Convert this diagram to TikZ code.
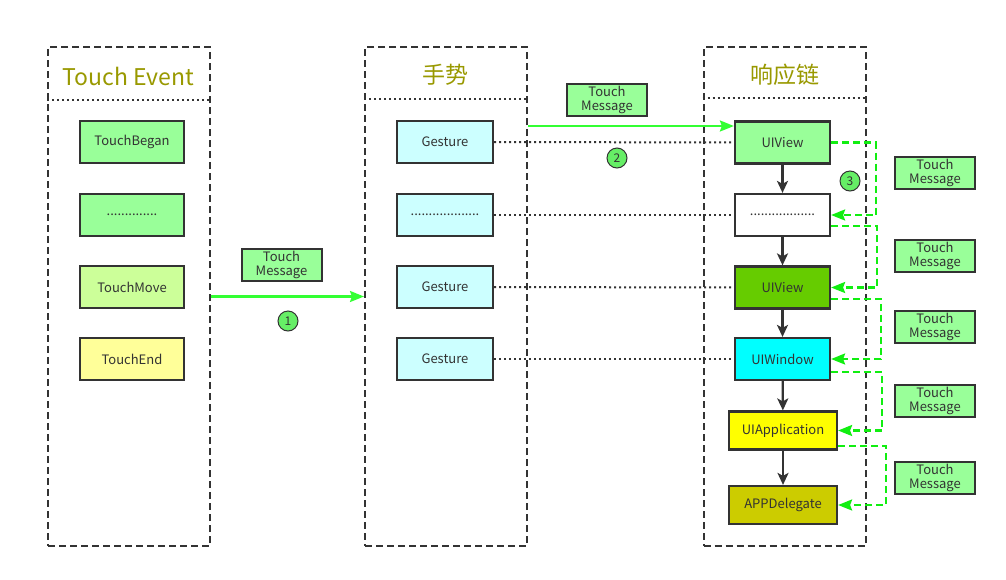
\documentclass[tikz,border=0pt]{standalone}
\usepackage{fontspec}
\setmainfont{Noto Sans CJK SC}
\usetikzlibrary{arrows.meta,positioning,calc}
\definecolor{titleol}{HTML}{999900}
\definecolor{ink}{HTML}{333333}
\definecolor{msggreen}{HTML}{99FF99}
\definecolor{movegreen}{HTML}{CCFF99}
\definecolor{endyellow}{HTML}{FFFF99}
\definecolor{gestcyan}{HTML}{CCFFFF}
\definecolor{viewgreen}{HTML}{66CC00}
\definecolor{wincyan}{HTML}{00FFFF}
\definecolor{appyellow}{HTML}{FFFF00}
\definecolor{appdel}{HTML}{CCCC00}
\definecolor{arrgreen}{HTML}{33FF33}
\definecolor{dashgreen}{HTML}{11EE11}
\definecolor{numgreen}{HTML}{66EE66}
\tikzset{
    colbox/.style={draw=ink, line width=2pt, dash pattern=on 7pt off 4pt, minimum width=162, minimum height=499, inner sep=0pt},
    sepline/.style={ink, line width=2pt, dash pattern=on 2pt off 3pt},
    coltitle/.style={text=titleol, font=\fontsize{23}{26}\selectfont},
    evbox/.style={draw=ink, line width=2.2pt, text=ink, font=\fontsize{13}{15}\selectfont, minimum width=104, minimum height=42, inner sep=0pt},
    gsbox/.style={evbox, fill=gestcyan, minimum width=96},
    chbox/.style={evbox, minimum width=95},
    msgbox/.style={draw=ink, line width=2pt, fill=msggreen, text=ink, font=\fontsize{13}{14}\selectfont, align=center, minimum width=80, minimum height=32, inner sep=0pt},
    numcirc/.style={circle, draw=ink, line width=1pt, fill=numgreen, text=ink, font=\fontsize{12}{13}\selectfont, minimum size=20, inner sep=0pt},
    dotline/.style={ink, line width=2pt, dash pattern=on 2pt off 3pt},
    chainarrow/.style={ink, line width=2.2pt, -{Stealth[length=12pt,width=11pt,inset=3pt]}},
    pusharrow/.style={arrgreen, line width=2.2pt, -{Stealth[length=14pt,width=11pt,inset=2pt]}},
    backarrow/.style={dashgreen, line width=2.2pt, dash pattern=on 7pt off 4pt, -{Stealth[length=14pt,width=11pt,inset=2pt]}}
}
\begin{document}
\begin{tikzpicture}[x=1pt,y=-1pt]
    \useasboundingbox[fill=white] (0,0) rectangle (1006,579);

    \node [colbox] (evcol) at (129,296.5) {};
    \node [colbox] (gscol) at (446,296.5) {};
    \node [colbox] (chcol) at (784.5,296.5) {};

    \draw [sepline] (evcol.west |- 0,100) -- (evcol.east |- 0,100);
    \draw [sepline] (gscol.west |- 0,99) -- (gscol.east |- 0,99);
    \draw [sepline] (chcol.west |- 0,98) -- (chcol.east |- 0,98);

    \node [coltitle] (evtitle) at (128,76) {Touch Event};
    \node [coltitle] (gstitle) at (445,75) {手势};
    \node [coltitle] (chtitle) at (785,75) {响应链};

    \node [evbox, fill=msggreen]  (began) at (132,142) {TouchBegan};
    \node [evbox, fill=msggreen]  (evdots) at (132,215) {..............};
    \node [evbox, fill=movegreen] (move)  at (132,287) {TouchMove};
    \node [evbox, fill=endyellow] (end)   at (132,359) {TouchEnd};

    \node [gsbox] (gs1) at (445,142) {Gesture};
    \node [gsbox] (gsdots) at (445,215) {...................};
    \node [gsbox] (gs3) at (445,287) {Gesture};
    \node [gsbox] (gs4) at (445,359) {Gesture};

    \node [chbox, fill=msggreen]  (uiv1)  at (782.5,142.5) {UIView};
    \node [chbox, fill=white]     (chdots) at (782.5,215) {..................};
    \node [chbox, fill=viewgreen] (uiv2)  at (782.5,287.5) {UIView};
    \node [chbox, fill=wincyan]   (uiwin) at (782.5,359) {UIWindow};
    \node [chbox, fill=appyellow, minimum width=108, minimum height=38] (uiapp) at (783,430.5) {UIApplication};
    \node [chbox, fill=appdel, minimum width=108, minimum height=38] (appd) at (783,505) {APPDelegate};

    \draw [dotline] (gs1) -- (uiv1);
    \draw [dotline] (gsdots) -- (chdots);
    \draw [dotline] (gs3) -- (uiv2);
    \draw [dotline] (gs4) -- (uiwin);

    \draw [chainarrow] (uiv1) -- (chdots);
    \draw [chainarrow] (chdots) -- (uiv2);
    \draw [chainarrow] (uiv2) -- (uiwin);
    \draw [chainarrow] (uiwin) -- (uiapp);
    \draw [chainarrow] (uiapp) -- (appd);

    \node [msgbox] (msg1) at (281.5,265) {Touch\\Message};
    \node [numcirc] (num1) at (288,321) {1};
    \draw [pusharrow] (evcol.east) -- (gscol.west);

    \coordinate (in2) at ($(uiv1.west)+(0,-16.5)$);
    \node [msgbox] (msg2) at (607,100) {Touch\\Message};
    \node [numcirc] (num2) at (617,158) {2};
    \draw [pusharrow] (gscol.east |- in2) -- (in2);

    \node [numcirc] (num3) at (850,181) {3};
    \node [msgbox] (back1) at (935,173) {Touch\\Message};
    \node [msgbox] (back2) at (935,256) {Touch\\Message};
    \node [msgbox] (back3) at (935,327) {Touch\\Message};
    \node [msgbox] (back4) at (935,401) {Touch\\Message};
    \node [msgbox] (back5) at (935,478) {Touch\\Message};

    \draw [backarrow] (uiv1.east) -- ++(45,0) |- (chdots.east);
    \draw [backarrow] ($(chdots.east)+(0,11)$) -- ++(46,0) |- (uiv2.east);
    \draw [backarrow] ($(uiv2.east)+(0,11.5)$) -- ++(50,0) |- (uiwin.east);
    \draw [backarrow] ($(uiwin.east)+(0,13)$) -- ++(51,0) |- (uiapp.east);
    \draw [backarrow] ($(uiapp.east)+(0,15.5)$) -- ++(48,0) |- (appd.east);
\end{tikzpicture}
\end{document}
